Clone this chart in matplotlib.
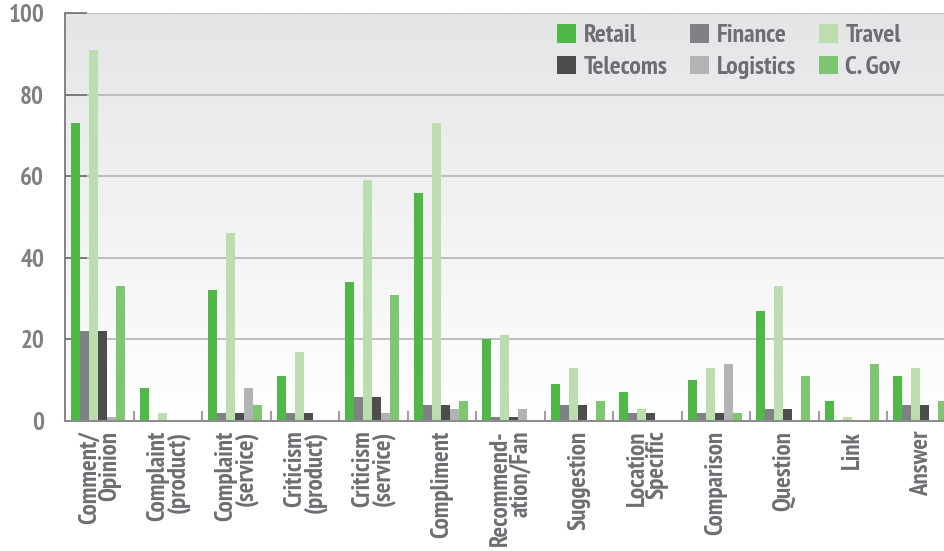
"""Grouped bar chart: message categories by sector."""

import matplotlib
matplotlib.use("Agg")
import matplotlib.pyplot as plt
import numpy as np

# --- data -------------------------------------------------------------
categories = [
    "Comment/\nOpinion", "Complaint\n(product)", "Complaint\n(service)",
    "Criticism\n(product)", "Criticism\n(service)", "Compliment",
    "Recommend-\nation/Fan", "Suggestion", "Location\nSpecific",
    "Comparison", "Question", "Link", "Answer",
]
sectors = ["Retail", "Finance", "Travel", "Telecoms", "Logistics", "C. Gov"]

retail    = [73, 8, 32, 11, 34, 56, 20, 9, 7, 10, 27, 5, 11]
finance   = [22, 0, 2, 2, 6, 4, 1, 4, 2, 2, 3, 0, 4]
travel    = [91, 2, 46, 17, 59, 73, 21, 13, 3, 13, 33, 1, 13]
telecoms  = [22, 0, 2, 2, 6, 4, 1, 4, 2, 2, 3, 0, 4]
logistics = [1, 0, 8, 0, 2, 3, 3, 0, 0, 14, 0, 0, 0]
cgov      = [33, 0, 4, 0, 31, 5, 0, 5, 0, 2, 11, 14, 5]

yticks = [0, 20, 40, 60, 80, 100]

# --- style ------------------------------------------------------------
COLORS = ["#50b848", "#808184", "#bcdeae", "#4d4d4f", "#b1b3b5", "#80c670"]
FONT = ["PT Sans Narrow", "Roboto Condensed", "Lato", "DejaVu Sans"]
TEXT_GRAY = "#6d6e71"

plt.rcParams["font.family"] = FONT
plt.rcParams["font.weight"] = "bold"

fig = plt.figure(figsize=(9.45, 5.51), dpi=100)
# axis runs past the right edge of the figure, as in the original
ax = fig.add_axes([65 / 945, 1 - 421 / 551, 890.5 / 945, 408 / 551])

# vertical gradient background
grad = np.linspace(0, 1, 256).reshape(-1, 1)
cmap = matplotlib.colors.LinearSegmentedColormap.from_list("bg", ["#ffffff", "#e4e5e7"])
ax.imshow(grad, extent=[0, 1, 0, 1], transform=ax.transAxes, aspect="auto",
          cmap=cmap, origin="lower", zorder=0)

x = np.arange(len(categories))
bar_w = 0.1314
series = [retail, finance, travel, telecoms, logistics, cgov]
bars = {}
for i, (name, vals) in enumerate(zip(sectors, series)):
    bars[name] = ax.bar(x + (i - 2.5) * bar_w - 0.018, vals, width=bar_w,
                        color=COLORS[i], label=name, zorder=3, linewidth=0)

ax.set_xlim(-0.5, len(categories) - 0.5)
ax.set_ylim(0, 100)

# grid
for v in yticks[1:]:
    ax.axhline(v, color="#b4b4b6", linewidth=1.2, zorder=1)

ax.set_yticks(yticks)
ax.tick_params(axis="y", direction="in", length=16, width=1.2, color="#6f7072",
               pad=15, labelsize=18, labelcolor="#7f8083")
ax.set_xticks(x)
ax.set_xticklabels(categories, rotation=90, ha="center", va="top",
                   multialignment="right", linespacing=0.85)
ax.tick_params(axis="x", length=0, pad=7, labelsize=18, labelcolor=TEXT_GRAY)
ax.set_xticks(x[:-1] + 0.5, minor=True)
ax.tick_params(axis="x", which="minor", direction="in", length=7, width=1.5,
               color="#a0a0a2")

for side in ["top", "right"]:
    ax.spines[side].set_visible(False)
ax.spines["left"].set_color("#6f7072")
ax.spines["left"].set_linewidth(1.2)
ax.spines["bottom"].set_color("#8c8c8e")
ax.spines["bottom"].set_linewidth(1.5)
ax.spines["left"].set_zorder(4)
ax.spines["bottom"].set_zorder(4)

# legend reads row-wise: Retail Finance Travel / Telecoms Logistics C. Gov
order = ["Retail", "Telecoms", "Finance", "Logistics", "Travel", "C. Gov"]
leg = ax.legend([bars[n] for n in order], order, ncols=3, loc="upper left",
                bbox_to_anchor=(482 / 890.5, 1 - 1 / 408), frameon=False,
                fontsize=18.5, handlelength=0.72, handleheight=0.72,
                handletextpad=0.3, columnspacing=0.9, labelspacing=0.32,
                borderaxespad=0)
for t in leg.get_texts():
    t.set_color(TEXT_GRAY)

fig.savefig("out.png", dpi=100)
